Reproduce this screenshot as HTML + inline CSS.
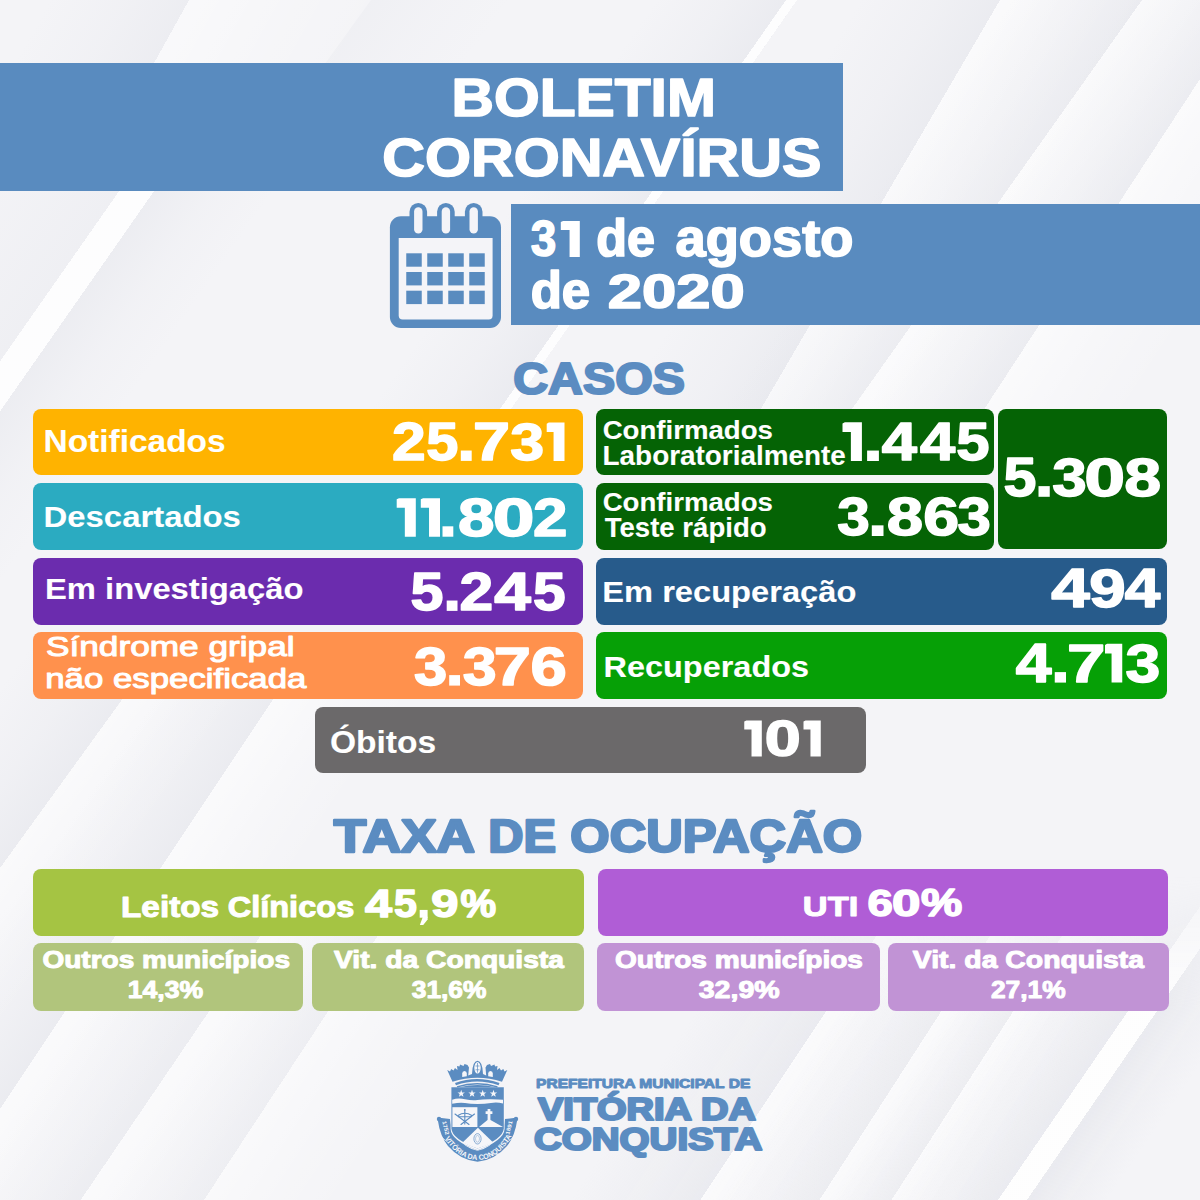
<!DOCTYPE html>
<html lang="pt-BR">
<head>
<meta charset="utf-8">
<title>Boletim Coronavírus</title>
<style>
html,body{margin:0;padding:0;}
body{width:1200px;height:1200px;overflow:hidden;position:relative;font-family:"Liberation Sans",sans-serif;background:#f3f3f6;}
#bg{position:absolute;left:0;top:0;width:1200px;height:1200px;}
.b{position:absolute;border-radius:8px;}
.band{position:absolute;background:#598bbf;}
svg.txt{position:absolute;left:0;top:0;}
svg.txt text{font-family:"Liberation Sans",sans-serif;stroke-linejoin:round;}
</style>
</head>
<body>
<svg id="bg" width="1200" height="1200" viewBox="0 0 1200 1200">
<defs>
<linearGradient id="ga0" x1="0" y1="0" x2="1" y2="0"><stop offset="0.0000" stop-color="rgb(206,209,219)" stop-opacity="0"/><stop offset="0.2265" stop-color="rgb(206,209,219)" stop-opacity="0.09000000000000001"/><stop offset="0.4118" stop-color="rgb(206,209,219)" stop-opacity="0.2"/><stop offset="0.4119" stop-color="#fff" stop-opacity="0.5"/><stop offset="0.7059" stop-color="#fff" stop-opacity="0.2"/><stop offset="1.0000" stop-color="#fff" stop-opacity="0"/></linearGradient>
<linearGradient id="ga2" x1="0" y1="0" x2="1" y2="0"><stop offset="0.0000" stop-color="rgb(206,209,219)" stop-opacity="0.12"/><stop offset="0.5000" stop-color="rgb(206,209,219)" stop-opacity="0.048"/><stop offset="1.0000" stop-color="rgb(206,209,219)" stop-opacity="0"/></linearGradient>
<linearGradient id="ga1" x1="0" y1="0" x2="1" y2="0"><stop offset="0.0000" stop-color="rgb(206,209,219)" stop-opacity="0"/><stop offset="0.3029" stop-color="rgb(206,209,219)" stop-opacity="0.06300000000000001"/><stop offset="0.5507" stop-color="rgb(206,209,219)" stop-opacity="0.14"/><stop offset="0.5509" stop-color="#fff" stop-opacity="0.85"/><stop offset="0.6522" stop-color="#fff" stop-opacity="0.85"/><stop offset="0.6523" stop-color="rgb(206,209,219)" stop-opacity="0.2"/><stop offset="0.8261" stop-color="rgb(206,209,219)" stop-opacity="0.06999999999999999"/><stop offset="1.0000" stop-color="rgb(206,209,219)" stop-opacity="0"/></linearGradient>
<linearGradient id="ga3" x1="0" y1="0" x2="1" y2="0"><stop offset="0.0000" stop-color="rgb(206,209,219)" stop-opacity="0"/><stop offset="0.4735" stop-color="rgb(206,209,219)" stop-opacity="0.108"/><stop offset="0.8609" stop-color="rgb(206,209,219)" stop-opacity="0.24"/><stop offset="0.8613" stop-color="#fff" stop-opacity="0.85"/><stop offset="0.9338" stop-color="#fff" stop-opacity="0.85"/><stop offset="0.9341" stop-color="rgb(206,209,219)" stop-opacity="0.0"/><stop offset="0.9669" stop-color="rgb(206,209,219)" stop-opacity="0.0"/><stop offset="1.0000" stop-color="rgb(206,209,219)" stop-opacity="0"/></linearGradient>
<linearGradient id="ga4" x1="0" y1="0" x2="1" y2="0"><stop offset="0.0000" stop-color="rgb(206,209,219)" stop-opacity="0"/><stop offset="0.2655" stop-color="rgb(206,209,219)" stop-opacity="0.108"/><stop offset="0.4828" stop-color="rgb(206,209,219)" stop-opacity="0.24"/><stop offset="0.4829" stop-color="#fff" stop-opacity="0.6"/><stop offset="0.7414" stop-color="#fff" stop-opacity="0.24"/><stop offset="1.0000" stop-color="#fff" stop-opacity="0"/></linearGradient>
<linearGradient id="ga5" x1="0" y1="0" x2="1" y2="0"><stop offset="0.0000" stop-color="rgb(206,209,219)" stop-opacity="0"/><stop offset="0.2554" stop-color="rgb(206,209,219)" stop-opacity="0.108"/><stop offset="0.4643" stop-color="rgb(206,209,219)" stop-opacity="0.24"/><stop offset="0.4645" stop-color="#fff" stop-opacity="0.6"/><stop offset="0.7321" stop-color="#fff" stop-opacity="0.24"/><stop offset="1.0000" stop-color="#fff" stop-opacity="0"/></linearGradient>
<linearGradient id="ga6" x1="0" y1="0" x2="1" y2="0"><stop offset="0.0000" stop-color="rgb(206,209,219)" stop-opacity="0"/><stop offset="0.2444" stop-color="rgb(206,209,219)" stop-opacity="0.108"/><stop offset="0.4444" stop-color="rgb(206,209,219)" stop-opacity="0.24"/><stop offset="0.4446" stop-color="#fff" stop-opacity="0.6"/><stop offset="0.7222" stop-color="#fff" stop-opacity="0.24"/><stop offset="1.0000" stop-color="#fff" stop-opacity="0"/></linearGradient>
<linearGradient id="gb0" x1="0" y1="0" x2="1" y2="0"><stop offset="0.0000" stop-color="rgb(206,209,219)" stop-opacity="0"/><stop offset="0.2860" stop-color="rgb(206,209,219)" stop-opacity="0.108"/><stop offset="0.5200" stop-color="rgb(206,209,219)" stop-opacity="0.24"/><stop offset="0.5202" stop-color="#fff" stop-opacity="0.55"/><stop offset="0.7600" stop-color="#fff" stop-opacity="0.22000000000000003"/><stop offset="1.0000" stop-color="#fff" stop-opacity="0"/></linearGradient>
<linearGradient id="gb1" x1="0" y1="0" x2="1" y2="0"><stop offset="0.0000" stop-color="rgb(206,209,219)" stop-opacity="0"/><stop offset="0.2538" stop-color="rgb(206,209,219)" stop-opacity="0.108"/><stop offset="0.4615" stop-color="rgb(206,209,219)" stop-opacity="0.24"/><stop offset="0.4617" stop-color="#fff" stop-opacity="0.6"/><stop offset="0.7308" stop-color="#fff" stop-opacity="0.24"/><stop offset="1.0000" stop-color="#fff" stop-opacity="0"/></linearGradient>
<linearGradient id="gb2" x1="0" y1="0" x2="1" y2="0"><stop offset="0.0000" stop-color="rgb(206,209,219)" stop-opacity="0"/><stop offset="0.2538" stop-color="rgb(206,209,219)" stop-opacity="0.09000000000000001"/><stop offset="0.4615" stop-color="rgb(206,209,219)" stop-opacity="0.2"/><stop offset="0.4617" stop-color="#fff" stop-opacity="0.6"/><stop offset="0.7308" stop-color="#fff" stop-opacity="0.24"/><stop offset="1.0000" stop-color="#fff" stop-opacity="0"/></linearGradient>
<linearGradient id="gb3" x1="0" y1="0" x2="1" y2="0"><stop offset="0.0000" stop-color="rgb(206,209,219)" stop-opacity="0"/><stop offset="0.2292" stop-color="rgb(206,209,219)" stop-opacity="0.081"/><stop offset="0.4167" stop-color="rgb(206,209,219)" stop-opacity="0.18"/><stop offset="0.4169" stop-color="#fff" stop-opacity="0.5"/><stop offset="0.7083" stop-color="#fff" stop-opacity="0.2"/><stop offset="1.0000" stop-color="#fff" stop-opacity="0"/></linearGradient>
<linearGradient id="gb4" x1="0" y1="0" x2="1" y2="0"><stop offset="0.0000" stop-color="rgb(206,209,219)" stop-opacity="0"/><stop offset="0.2979" stop-color="rgb(206,209,219)" stop-opacity="0.108"/><stop offset="0.5417" stop-color="rgb(206,209,219)" stop-opacity="0.24"/><stop offset="0.5419" stop-color="#fff" stop-opacity="0.6"/><stop offset="0.7708" stop-color="#fff" stop-opacity="0.24"/><stop offset="1.0000" stop-color="#fff" stop-opacity="0"/></linearGradient>
<linearGradient id="gb5" x1="0" y1="0" x2="1" y2="0"><stop offset="0.0000" stop-color="rgb(206,209,219)" stop-opacity="0"/><stop offset="0.3235" stop-color="rgb(206,209,219)" stop-opacity="0.09000000000000001"/><stop offset="0.5882" stop-color="rgb(206,209,219)" stop-opacity="0.2"/><stop offset="0.5885" stop-color="#fff" stop-opacity="0.6"/><stop offset="0.7941" stop-color="#fff" stop-opacity="0.24"/><stop offset="1.0000" stop-color="#fff" stop-opacity="0"/></linearGradient>
<linearGradient id="gb6" x1="0" y1="0" x2="1" y2="0"><stop offset="0.0000" stop-color="rgb(206,209,219)" stop-opacity="0"/><stop offset="0.2200" stop-color="rgb(206,209,219)" stop-opacity="0.081"/><stop offset="0.4000" stop-color="rgb(206,209,219)" stop-opacity="0.18"/><stop offset="0.4003" stop-color="#fff" stop-opacity="0.6"/><stop offset="0.7000" stop-color="#fff" stop-opacity="0.24"/><stop offset="1.0000" stop-color="#fff" stop-opacity="0"/></linearGradient>
<linearGradient id="gb7" x1="0" y1="0" x2="1" y2="0"><stop offset="0.0000" stop-color="rgb(206,209,219)" stop-opacity="0"/><stop offset="0.2763" stop-color="rgb(206,209,219)" stop-opacity="0.108"/><stop offset="0.5023" stop-color="rgb(206,209,219)" stop-opacity="0.24"/><stop offset="0.5025" stop-color="#fff" stop-opacity="0.85"/><stop offset="0.6347" stop-color="#fff" stop-opacity="0.85"/><stop offset="0.6349" stop-color="rgb(206,209,219)" stop-opacity="0.26"/><stop offset="0.8174" stop-color="rgb(206,209,219)" stop-opacity="0.091"/><stop offset="1.0000" stop-color="rgb(206,209,219)" stop-opacity="0"/></linearGradient>
<linearGradient id="gfade" x1="0" y1="0" x2="0" y2="1"><stop offset="0" stop-color="#000"/><stop offset="0.73" stop-color="#000"/><stop offset="0.84" stop-color="#fff"/><stop offset="1" stop-color="#fff"/></linearGradient><mask id="mfade" maskUnits="userSpaceOnUse" x="0" y="0" width="1200" height="1200"><rect width="1200" height="1200" fill="url(#gfade)"/></mask>
</defs>
<rect width="1200" height="1200" fill="#f4f4f7"/>
<rect x="-140" y="0" width="340" height="64" fill="url(#ga0)" transform="translate(189.0,0) skewX(-29.05)"/>
<rect x="0" y="0" width="140" height="64" fill="url(#ga2)" transform="translate(371.0,0) skewX(-35.83)"/>
<rect x="-190" y="190" width="345" height="430" fill="url(#ga1)" transform="translate(252.7,0) skewX(-34.97)"/>
<rect x="-130" y="0" width="151" height="440" fill="url(#ga3)" transform="translate(786.0,0) skewX(-34.97)"/>
<rect x="-140" y="0" width="290" height="470" fill="url(#ga4)" transform="translate(1000.0,0) skewX(-30.32)"/>
<rect x="-130" y="0" width="280" height="470" fill="url(#ga5)" transform="translate(1142.0,0) skewX(-35.35)"/>
<rect x="-120" y="0" width="270" height="470" fill="url(#ga6)" transform="translate(1251.6,0) skewX(-33.17)"/>
<rect x="-130" y="640" width="250" height="560" fill="url(#gb0)" transform="translate(629.0,0) skewX(-35.93)"/>
<rect x="-120" y="640" width="260" height="560" fill="url(#gb1)" transform="translate(739.3,0) skewX(-33.69)"/>
<rect x="-120" y="930" width="260" height="270" fill="url(#gb2)" transform="translate(897.1,0) skewX(-34.23)"/>
<rect x="-100" y="930" width="240" height="270" fill="url(#gb3)" transform="translate(993.4,0) skewX(-33.34)"/>
<g mask="url(#mfade)">
<rect x="-130" y="860" width="240" height="340" fill="url(#gb4)" transform="translate(1500.3,0) skewX(-33.69)"/>
<rect x="-100" y="860" width="170" height="340" fill="url(#gb5)" transform="translate(1593.7,0) skewX(-32.83)"/>
<rect x="-60" y="860" width="150" height="340" fill="url(#gb6)" transform="translate(1665.7,0) skewX(-32.83)"/>
<rect x="-110" y="860" width="219" height="340" fill="url(#gb7)" transform="translate(1823.9,0) skewX(-34.54)"/>
</g>
</svg>

<!-- header bands -->
<div class="band" style="left:0;top:63.3px;width:842.5px;height:127.3px"></div>
<div class="band" style="left:511.3px;top:204.3px;width:688.7px;height:121.2px"></div>

<!-- calendar icon -->
<svg style="position:absolute;left:380px;top:195px" width="140" height="140" viewBox="380 195 140 140">
  <g fill="#598bbf">
    <rect x="409.5" y="202.9" width="17.6" height="36" rx="8.8"/>
    <rect x="437.1" y="202.9" width="17.6" height="36" rx="8.8"/>
    <rect x="464.9" y="202.9" width="17.6" height="36" rx="8.8"/>
    <rect x="389.9" y="216.3" width="111.1" height="111.7" rx="11"/>
  </g>
  <path d="M398.7 237.9H492.6V315.6a4 4 0 0 1 -4 4H402.7a4 4 0 0 1 -4 -4Z" fill="#f4f4f8"/>
  <g fill="#f4f4f8">
    <rect x="414.1" y="207.2" width="8.4" height="26.4" rx="4.2"/>
    <rect x="441.7" y="207.2" width="8.4" height="26.4" rx="4.2"/>
    <rect x="469.5" y="207.2" width="8.4" height="26.4" rx="4.2"/>
  </g>
  <g fill="#598bbf">
    <rect x="406.25" y="253.3" width="15.5" height="13.4"/><rect x="427.25" y="253.3" width="15.5" height="13.4"/><rect x="448.25" y="253.3" width="15.5" height="13.4"/><rect x="469.25" y="253.3" width="15.5" height="13.4"/>
    <rect x="406.25" y="272" width="15.5" height="13.4"/><rect x="427.25" y="272" width="15.5" height="13.4"/><rect x="448.25" y="272" width="15.5" height="13.4"/><rect x="469.25" y="272" width="15.5" height="13.4"/>
    <rect x="406.25" y="290.7" width="15.5" height="13.4"/><rect x="427.25" y="290.7" width="15.5" height="13.4"/><rect x="448.25" y="290.7" width="15.5" height="13.4"/><rect x="469.25" y="290.7" width="15.5" height="13.4"/>
  </g>
</svg>

<!-- CASOS left column -->
<div class="b" style="left:33px;top:408.7px;width:550px;height:66.6px;background:#ffb300"></div>
<div class="b" style="left:33px;top:483px;width:550px;height:66.5px;background:#2babc1"></div>
<div class="b" style="left:33px;top:558px;width:550px;height:66.5px;background:#6b2cae"></div>
<div class="b" style="left:33px;top:632px;width:550px;height:66.7px;background:#ff914d"></div>
<!-- CASOS right column -->
<div class="b" style="left:596.3px;top:408.7px;width:397.4px;height:66.4px;background:#056305"></div>
<div class="b" style="left:596.3px;top:483px;width:397.4px;height:66.5px;background:#056305"></div>
<div class="b" style="left:998px;top:408.7px;width:169px;height:140.8px;background:#056305"></div>
<div class="b" style="left:596.3px;top:558px;width:570.7px;height:66.5px;background:#275b8b"></div>
<div class="b" style="left:596.3px;top:632px;width:570.7px;height:66.7px;background:#06a006"></div>
<!-- Obitos -->
<div class="b" style="left:315px;top:706.8px;width:550.7px;height:66.6px;background:#6b696a"></div>

<!-- Taxa de ocupacao -->
<div class="b" style="left:33px;top:869.4px;width:550.7px;height:66.8px;background:#a5c443"></div>
<div class="b" style="left:32.5px;top:943px;width:270.5px;height:67.5px;background:#b1c57c"></div>
<div class="b" style="left:312px;top:943px;width:271.7px;height:67.5px;background:#b1c57c"></div>
<div class="b" style="left:597.5px;top:869.4px;width:570.5px;height:66.8px;background:#b05dd6"></div>
<div class="b" style="left:597px;top:943px;width:282.5px;height:67.5px;background:#c193d5"></div>
<div class="b" style="left:888px;top:943px;width:280.7px;height:67.5px;background:#c193d5"></div>

<!-- crest -->
<svg style="position:absolute;left:425px;top:1050px" width="120" height="120" viewBox="0 0 1200 1200">
  <defs>
    <path id="rib" d="M196 880 Q285 1030 420 1082 Q525 1118 630 1082 Q765 1030 854 880"/>
    <path id="ribL" d="M236 872 L188 700"/>
    <path id="ribR" d="M862 700 L814 872"/>
  </defs>
  <g fill="#5b8cc1">
    <!-- ribbon -->
    <path d="M128 700 Q120 680 145 678 L250 690 Q262 790 300 850 Q400 985 525 1008 Q650 985 750 850 Q788 790 800 690 L905 678 Q930 680 922 700 Q900 860 820 960 Q700 1100 525 1118 Q350 1100 230 960 Q150 860 128 700Z"/>
    <circle cx="140" cy="690" r="22"/><circle cx="910" cy="690" r="22"/>
    <!-- shield outer thin outline -->
    <path d="M262 780 Q262 900 525 1000 Q788 900 788 780" fill="none" stroke="#5b8cc1" stroke-width="8"/>
  </g>
  <path d="M150 858 L238 932 M900 858 L812 932" stroke="#f6f6f9" stroke-width="7" fill="none"/>
  <!-- white gap around shield -->
  <path d="M256 364 H796 V790 Q790 905 525 1002 Q260 905 256 790Z" fill="#f6f6f9"/>
  <g fill="#5b8cc1">
    <!-- shield -->
    <path d="M264 372 H788 V785 Q780 890 525 985 Q270 890 264 785Z"/>
    <!-- crown -->
    <path d="M300 330 Q520 250 745 330 L735 352 Q520 278 310 352Z"/>
    <path d="M318 362 Q520 298 727 362 L722 376 Q520 316 323 376Z"/>
    <path d="M345 372 Q525 326 705 372Z"/>
    <path d="M222 200 L250 215 L262 190 L285 205 L300 180 L325 200 L320 160 L345 165 L350 145 L385 160 L395 140 L425 150 L440 175 L432 255 L470 240 Q475 110 525 108 Q575 110 580 240 L612 255 L605 175 L620 150 L650 140 L660 160 L695 145 L700 165 L725 160 L720 200 L745 180 L760 205 L783 190 L795 215 L823 200 L770 318 Q525 235 275 318Z"/>
  </g>
  <g fill="#f6f6f9">
    <!-- crown details -->
    <ellipse cx="525" cy="178" rx="32" ry="58"/>
    <path d="M372 270 V235 Q372 210 395 210 Q418 210 418 235 V262Z"/>
    <path d="M632 262 V235 Q632 210 655 210 Q678 210 678 235 V270Z"/>
    <!-- stars -->
    <path id="st" d="M362 398 l9 26 h28 l-22 17 8 27 -23 -16 -23 16 8 -27 -22 -17 h28z"/>
    <use href="#st" x="108"/><use href="#st" x="215"/><use href="#st" x="323"/>
    <!-- wavy band -->
    <path d="M272 498 Q330 475 400 492 T525 500 T660 492 T780 498 V535 Q720 520 660 530 T525 540 T400 530 T272 538Z"/>
    <!-- left quadrant -->
    <rect x="274" y="572" width="250" height="198"/>
    <!-- hill and cross -->
    <path d="M540 770 L625 700 Q640 688 655 700 L780 770Z"/>
    <path d="M626 590 h28 v22 h20 v28 h-20 v60 h-28 v-60 h-20 v-28 h20z"/>
    <!-- center triangle -->
    <path d="M529 778 L682 926 Q610 958 525 984 Q440 958 376 926Z"/>
  </g>
  <!-- crossbow emblem -->
  <g fill="none" stroke="#5b8cc1" stroke-width="11" stroke-linecap="round">
    <path d="M398 600 V740"/>
    <path d="M330 655 Q398 610 468 655"/>
    <path d="M300 640 L440 745 M495 640 L360 745"/>
    <path d="M335 668 H460"/>
    <circle cx="398" cy="598" r="9" fill="#5b8cc1" stroke="none"/>
  </g>
  <!-- oval emblems -->
  <g fill="none" stroke="#5b8cc1">
    <ellipse cx="525" cy="888" rx="36" ry="52" stroke-width="7"/>
    <ellipse cx="525" cy="888" rx="20" ry="34" stroke-width="4"/>
    <path d="M525 130 V226 M505 160 H545 M505 198 H545" stroke-width="7"/>
  </g>
  <g fill="#f6f6f9" font-family="Liberation Sans, sans-serif" font-weight="bold">
    <text font-size="74" letter-spacing="0"><textPath href="#rib" startOffset="2" textLength="850" lengthAdjust="spacingAndGlyphs">VITÓRIA DA CONQUISTA</textPath></text>
    <text font-size="56" transform="translate(172 715) rotate(76)" textLength="140" lengthAdjust="spacingAndGlyphs">1752</text>
    <text font-size="56" transform="translate(842 850) rotate(-76)" textLength="140" lengthAdjust="spacingAndGlyphs">1891</text>
  </g>
</svg>


<svg class="txt" width="1200" height="1200" viewBox="0 0 1200 1200">
<text transform="translate(451.56,115.60) scale(1.1137,1)" font-size="52.75" font-weight="bold" fill="#ffffff" stroke="#ffffff" stroke-width="1.6">BOLETIM</text>
<text transform="translate(382.23,175.80) scale(1.1214,1)" font-size="52.75" font-weight="bold" fill="#ffffff" stroke="#ffffff" stroke-width="1.6">CORONAVÍRUS</text>
<text transform="translate(596.29,256.10) scale(1.0350,1.06)" font-size="48.65" font-weight="bold" fill="#ffffff" stroke="#ffffff" stroke-width="1.6">de</text>
<text transform="translate(675.46,256.10) scale(1.1162,1.06)" font-size="48.65" font-weight="bold" fill="#ffffff" stroke="#ffffff" stroke-width="1.6">agosto</text>
<text transform="translate(530.68,307.80) scale(1.0588,1.06)" font-size="48.23" font-weight="bold" fill="#ffffff" stroke="#ffffff" stroke-width="1.6">de</text>
<text transform="translate(607.77,307.80) scale(1.2755,1)" font-size="48.23" font-weight="bold" fill="#ffffff" stroke="#ffffff" stroke-width="1.6">2020</text>
<text transform="translate(513.23,393.60) scale(1.0926,1)" font-size="44.20" font-weight="bold" fill="#5b8cc1" stroke="#5b8cc1" stroke-width="2.2">CASOS</text>
<text transform="translate(43.49,452.45) scale(1.0921,1)" font-size="30.65" font-weight="bold" fill="#ffffff" stroke="#ffffff" stroke-width="0.1">Notificados</text>
<text transform="translate(43.53,526.95) scale(1.0987,1)" font-size="29.93" font-weight="bold" fill="#ffffff" stroke="#ffffff" stroke-width="0.1">Descartados</text>
<text transform="translate(45.03,599.45) scale(1.0945,1)" font-size="29.93" font-weight="bold" fill="#ffffff" stroke="#ffffff" stroke-width="0.1">Em investigação</text>
<text transform="translate(45.94,655.75) scale(1.3039,1.04)" font-size="27.03" font-weight="normal" fill="#ffffff" stroke="#ffffff" stroke-width="1.0">Síndrome gripal</text>
<text transform="translate(45.26,688.25) scale(1.2877,1.04)" font-size="27.03" font-weight="normal" fill="#ffffff" stroke="#ffffff" stroke-width="1.0">não especificada</text>
<text transform="translate(602.64,438.70) scale(1.0503,1)" font-size="26.30" font-weight="bold" fill="#ffffff" stroke="#ffffff" stroke-width="0.1">Confirmados</text>
<text transform="translate(602.58,464.95) scale(1.0321,1)" font-size="27.03" font-weight="bold" fill="#ffffff" stroke="#ffffff" stroke-width="0.1">Laboratorialmente</text>
<text transform="translate(602.64,510.70) scale(1.0503,1)" font-size="26.30" font-weight="bold" fill="#ffffff" stroke="#ffffff" stroke-width="0.1">Confirmados</text>
<text transform="translate(604.72,536.70) scale(1.0203,1)" font-size="27.03" font-weight="bold" fill="#ffffff" stroke="#ffffff" stroke-width="0.1">Teste rápido</text>
<text transform="translate(602.29,602.45) scale(1.1043,1)" font-size="29.57" font-weight="bold" fill="#ffffff" stroke="#ffffff" stroke-width="0.1">Em recuperação</text>
<text transform="translate(603.55,677.45) scale(1.1252,1)" font-size="28.84" font-weight="bold" fill="#ffffff" stroke="#ffffff" stroke-width="0.1">Recuperados</text>
<text transform="translate(329.91,753.20) scale(1.0579,1)" font-size="31.74" font-weight="bold" fill="#ffffff" stroke="#ffffff" stroke-width="0.1">Óbitos</text>
<text transform="translate(333.87,852.40) scale(1.1720,1)" font-size="45.51" font-weight="bold" fill="#5b8cc1" stroke="#5b8cc1" stroke-width="2.4">TAXA</text>
<text transform="translate(488.35,852.40) scale(1.0725,1)" font-size="45.51" font-weight="bold" fill="#5b8cc1" stroke="#5b8cc1" stroke-width="2.4">DE</text>
<text transform="translate(570.19,852.40) scale(1.1145,1)" font-size="45.51" font-weight="bold" fill="#5b8cc1" stroke="#5b8cc1" stroke-width="2.4">OCUPAÇÃO</text>
<text transform="translate(121.03,917.20) scale(1.1492,1)" font-size="28.99" font-weight="bold" fill="#ffffff" stroke="#ffffff" stroke-width="1.0">Leitos</text>
<text transform="translate(227.65,917.20) scale(1.1230,1)" font-size="28.99" font-weight="bold" fill="#ffffff" stroke="#ffffff" stroke-width="1.0">Clínicos</text>
<text transform="translate(42.44,968.00) scale(1.1871,1)" font-size="23.62" font-weight="bold" fill="#ffffff" stroke="#ffffff" stroke-width="1.0">Outros municípios</text>
<text transform="translate(127.69,997.80) scale(1.1371,1)" font-size="23.40" font-weight="bold" fill="#ffffff" stroke="#ffffff" stroke-width="1.0">14,3%</text>
<text transform="translate(334.03,968.00) scale(1.1953,1)" font-size="23.62" font-weight="bold" fill="#ffffff" stroke="#ffffff" stroke-width="1.0">Vit. da Conquista</text>
<text transform="translate(411.75,997.80) scale(1.1248,1)" font-size="23.40" font-weight="bold" fill="#ffffff" stroke="#ffffff" stroke-width="1.0">31,6%</text>
<text transform="translate(802.82,915.80) scale(1.2175,1)" font-size="28.26" font-weight="bold" fill="#ffffff" stroke="#ffffff" stroke-width="1.0">UTI</text>
<text transform="translate(614.94,968.00) scale(1.1895,1)" font-size="23.62" font-weight="bold" fill="#ffffff" stroke="#ffffff" stroke-width="1.0">Outros municípios</text>
<text transform="translate(698.75,997.80) scale(1.2192,1)" font-size="23.40" font-weight="bold" fill="#ffffff" stroke="#ffffff" stroke-width="1.0">32,9%</text>
<text transform="translate(912.78,968.00) scale(1.2017,1)" font-size="23.62" font-weight="bold" fill="#ffffff" stroke="#ffffff" stroke-width="1.0">Vit. da Conquista</text>
<text transform="translate(990.99,997.80) scale(1.1250,1)" font-size="23.40" font-weight="bold" fill="#ffffff" stroke="#ffffff" stroke-width="1.0">27,1%</text>
<text transform="translate(536.03,1088.05) scale(1.2809,1)" font-size="12.17" font-weight="bold" fill="#5b8cc1" stroke="#5b8cc1" stroke-width="0.9">PREFEITURA MUNICIPAL DE</text>
<text transform="translate(538.04,1119.70) scale(1.2410,1)" font-size="30.58" font-weight="bold" fill="#5b8cc1" stroke="#5b8cc1" stroke-width="2.2">VITÓRIA DA</text>
<text transform="translate(534.01,1150.40) scale(1.1976,1)" font-size="32.17" font-weight="bold" fill="#5b8cc1" stroke="#5b8cc1" stroke-width="2.2">CONQUISTA</text>
<text transform="translate(365.00,916.91) scale(1.2550,1.0188)" font-size="38.72" font-weight="bold" fill="#fff" stroke="#fff" stroke-width="1.5">4</text>
<text transform="translate(393.89,916.53) scale(1.0617,1.0050)" font-size="38.72" font-weight="bold" fill="#fff" stroke="#fff" stroke-width="1.5">5</text>
<rect x="419.70" y="909.92" width="7.90" height="7.78" fill="#fff"/>
<path d="M427.60 916.70V919.43L423.25 924.90H419.86L422.86 916.70Z" fill="#fff"/>
<text transform="translate(431.32,916.55) scale(1.2614,0.9916)" font-size="38.72" font-weight="bold" fill="#fff" stroke="#fff" stroke-width="1.5">9</text>
<text transform="translate(460.40,916.53) scale(1.0359,1.0050)" font-size="38.72" font-weight="bold" fill="#fff" stroke="#fff" stroke-width="1.5">%</text>
<text transform="translate(867.49,915.77) scale(1.2034,0.9928)" font-size="37.87" font-weight="bold" fill="#fff" stroke="#fff" stroke-width="1.5">6</text>
<text transform="translate(891.88,915.77) scale(1.3513,0.9928)" font-size="37.87" font-weight="bold" fill="#fff" stroke="#fff" stroke-width="1.5">0</text>
<text transform="translate(920.94,915.76) scale(1.2261,1.0062)" font-size="37.87" font-weight="bold" fill="#fff" stroke="#fff" stroke-width="1.5">%</text>
<text transform="translate(530.64,255.92) scale(0.9419,1.0079)" font-size="48.79" font-weight="bold" fill="#fff" stroke="#fff" stroke-width="1.5">3</text>
<path d="M569.57 221.00H579.80V256.90H569.57V229.97H560.80V222.08L563.08 221.00Z" fill="#fff"/>
<text transform="translate(392.09,460.37) scale(1.1576,1.0190)" font-size="52.34" font-weight="bold" fill="#fff" stroke="#fff" stroke-width="1.5">2</text>
<text transform="translate(426.35,459.83) scale(1.1023,1.0190)" font-size="52.34" font-weight="bold" fill="#fff" stroke="#fff" stroke-width="1.5">5</text>
<rect x="460.80" y="450.53" width="10.90" height="10.37" fill="#fff"/>
<text transform="translate(473.00,460.37) scale(1.2724,1.0190)" font-size="52.34" font-weight="bold" fill="#fff" stroke="#fff" stroke-width="1.5">7</text>
<text transform="translate(510.19,459.85) scale(1.1647,1.0050)" font-size="52.34" font-weight="bold" fill="#fff" stroke="#fff" stroke-width="1.5">3</text>
<path d="M553.56 422.50H564.50V460.90H553.56V432.10H546.70V423.65L548.84 422.50Z" fill="#fff"/>
<path d="M404.83 498.20H415.80V536.70H404.83V507.82H396.70V499.36L398.99 498.20Z" fill="#fff"/>
<path d="M429.03 498.20H440.00V536.70H429.03V507.82H420.80V499.36L423.10 498.20Z" fill="#fff"/>
<rect x="442.50" y="526.31" width="10.80" height="10.40" fill="#fff"/>
<text transform="translate(457.89,535.65) scale(1.2495,1.0049)" font-size="52.48" font-weight="bold" fill="#fff" stroke="#fff" stroke-width="1.5">8</text>
<text transform="translate(492.75,535.65) scale(1.4291,1.0049)" font-size="52.48" font-weight="bold" fill="#fff" stroke="#fff" stroke-width="1.5">0</text>
<text transform="translate(532.96,536.17) scale(1.1806,1.0189)" font-size="52.48" font-weight="bold" fill="#fff" stroke="#fff" stroke-width="1.5">2</text>
<text transform="translate(410.52,609.83) scale(1.1316,1.0190)" font-size="52.34" font-weight="bold" fill="#fff" stroke="#fff" stroke-width="1.5">5</text>
<rect x="446.70" y="600.53" width="10.80" height="10.37" fill="#fff"/>
<text transform="translate(459.59,610.37) scale(1.1576,1.0190)" font-size="52.34" font-weight="bold" fill="#fff" stroke="#fff" stroke-width="1.5">2</text>
<text transform="translate(494.20,610.36) scale(1.2570,1.0333)" font-size="52.34" font-weight="bold" fill="#fff" stroke="#fff" stroke-width="1.5">4</text>
<text transform="translate(533.03,609.83) scale(1.1206,1.0190)" font-size="52.34" font-weight="bold" fill="#fff" stroke="#fff" stroke-width="1.5">5</text>
<text transform="translate(414.10,684.53) scale(1.1274,1.0045)" font-size="53.05" font-weight="bold" fill="#fff" stroke="#fff" stroke-width="1.5">3</text>
<rect x="449.20" y="675.10" width="10.80" height="10.50" fill="#fff"/>
<text transform="translate(462.69,684.53) scale(1.1491,1.0045)" font-size="53.05" font-weight="bold" fill="#fff" stroke="#fff" stroke-width="1.5">3</text>
<text transform="translate(493.80,685.06) scale(1.2592,1.0184)" font-size="53.05" font-weight="bold" fill="#fff" stroke="#fff" stroke-width="1.5">7</text>
<text transform="translate(530.39,684.53) scale(1.2308,1.0045)" font-size="53.05" font-weight="bold" fill="#fff" stroke="#fff" stroke-width="1.5">6</text>
<path d="M850.87 422.30H861.90V461.00H850.87V431.98H842.50V423.46L844.83 422.30Z" fill="#fff"/>
<rect x="867.10" y="450.55" width="11.80" height="10.45" fill="#fff"/>
<text transform="translate(881.70,460.45) scale(1.1980,1.0330)" font-size="52.77" font-weight="bold" fill="#fff" stroke="#fff" stroke-width="1.5">4</text>
<text transform="translate(920.00,460.45) scale(1.1980,1.0330)" font-size="52.77" font-weight="bold" fill="#fff" stroke="#fff" stroke-width="1.5">4</text>
<text transform="translate(956.30,459.93) scale(1.1335,1.0186)" font-size="52.77" font-weight="bold" fill="#fff" stroke="#fff" stroke-width="1.5">5</text>
<text transform="translate(837.22,534.92) scale(1.0846,1.0039)" font-size="53.90" font-weight="bold" fill="#fff" stroke="#fff" stroke-width="1.5">3</text>
<rect x="871.80" y="525.34" width="11.70" height="10.67" fill="#fff"/>
<text transform="translate(886.79,534.92) scale(1.2131,1.0039)" font-size="53.90" font-weight="bold" fill="#fff" stroke="#fff" stroke-width="1.5">8</text>
<text transform="translate(923.31,534.92) scale(1.1968,1.0039)" font-size="53.90" font-weight="bold" fill="#fff" stroke="#fff" stroke-width="1.5">6</text>
<text transform="translate(957.60,534.92) scale(1.1132,1.0039)" font-size="53.90" font-weight="bold" fill="#fff" stroke="#fff" stroke-width="1.5">3</text>
<text transform="translate(1003.57,495.70) scale(1.0971,1.0178)" font-size="53.90" font-weight="bold" fill="#fff" stroke="#fff" stroke-width="1.5">5</text>
<rect x="1038.50" y="486.13" width="11.25" height="10.67" fill="#fff"/>
<text transform="translate(1052.13,495.72) scale(1.1506,1.0039)" font-size="53.90" font-weight="bold" fill="#fff" stroke="#fff" stroke-width="1.5">3</text>
<text transform="translate(1084.30,495.72) scale(1.3636,1.0039)" font-size="53.90" font-weight="bold" fill="#fff" stroke="#fff" stroke-width="1.5">0</text>
<text transform="translate(1124.17,495.72) scale(1.2309,1.0039)" font-size="53.90" font-weight="bold" fill="#fff" stroke="#fff" stroke-width="1.5">8</text>
<text transform="translate(1051.25,607.25) scale(1.3079,1.0329)" font-size="52.91" font-weight="bold" fill="#fff" stroke="#fff" stroke-width="1.5">4</text>
<text transform="translate(1089.29,606.74) scale(1.2378,1.0046)" font-size="52.91" font-weight="bold" fill="#fff" stroke="#fff" stroke-width="1.5">9</text>
<text transform="translate(1124.75,607.25) scale(1.2066,1.0329)" font-size="52.91" font-weight="bold" fill="#fff" stroke="#fff" stroke-width="1.5">4</text>
<text transform="translate(1015.75,682.05) scale(1.2134,1.0328)" font-size="52.98" font-weight="bold" fill="#fff" stroke="#fff" stroke-width="1.5">4</text>
<rect x="1054.75" y="672.11" width="11.25" height="10.49" fill="#fff"/>
<text transform="translate(1066.93,682.06) scale(1.3024,1.0185)" font-size="52.98" font-weight="bold" fill="#fff" stroke="#fff" stroke-width="1.5">7</text>
<path d="M1111.56 643.75H1122.25V682.60H1111.56V653.46H1105.00V644.92L1107.07 643.75Z" fill="#fff"/>
<text transform="translate(1125.38,681.54) scale(1.1797,1.0045)" font-size="52.98" font-weight="bold" fill="#fff" stroke="#fff" stroke-width="1.5">3</text>
<path d="M751.51 720.50H761.80V756.60H751.51V729.52H744.25V721.58L746.36 720.50Z" fill="#fff"/>
<text transform="translate(764.71,755.61) scale(1.3184,1.0076)" font-size="49.08" font-weight="bold" fill="#fff" stroke="#fff" stroke-width="1.5">0</text>
<path d="M810.46 720.50H820.75V756.60H810.46V729.52H803.50V721.58L805.57 720.50Z" fill="#fff"/>
</svg>
</body>
</html>
